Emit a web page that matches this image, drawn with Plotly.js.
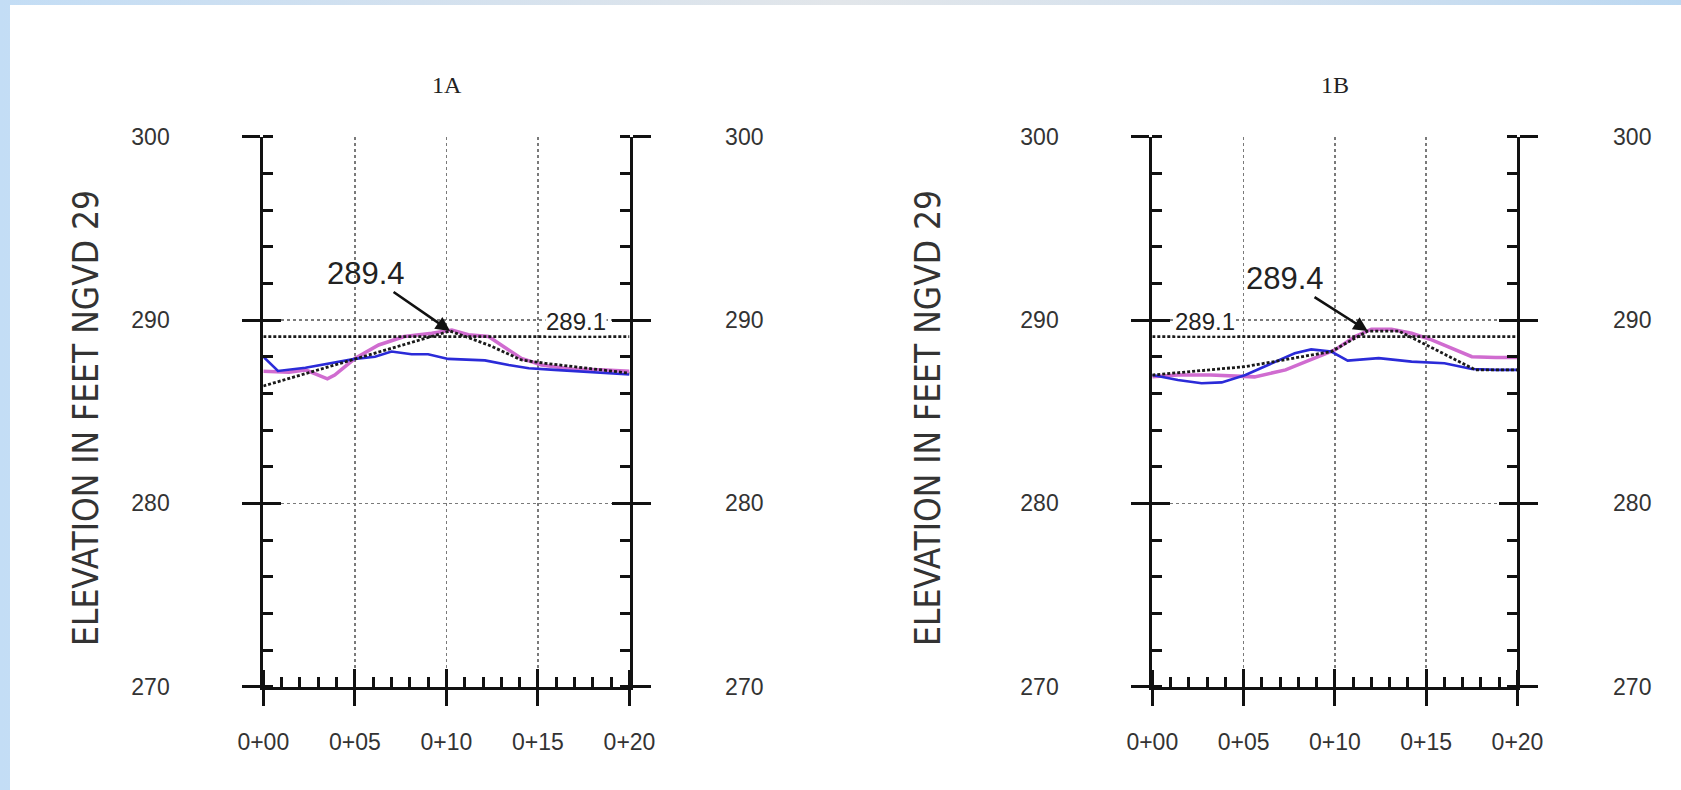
<!DOCTYPE html>
<html>
<head>
<meta charset="utf-8">
<script src="https://cdn.plot.ly/plotly-3.0.1.min.js"></script>
<style>
html, body { margin:0; padding:0; width:1681px; height:790px; overflow:hidden;
  background: linear-gradient(to right, #c3ddf5 0%, #d3e1ef 25%, #e2e6ea 50%, #d3e1ef 75%, #bcd8f1 100%); }
#chart { position:absolute; left:10px; top:5px; width:1671px; height:785px; background:#ffffff; }
</style>
</head>
<body>
<div id="chart"></div>
<script>
// ---- data ----
const stationTicks = [0, 5, 10, 15, 20];
const stationLabels = ['0+00', '0+05', '0+10', '0+15', '0+20'];
const elevTicks = [270, 280, 290, 300];
const elevLabels = ['270', '280', '290', '300'];
const yTitle = 'ELEVATION IN FEET NGVD 29';
const panelTitles = ['1A', '1B'];

const designElev = 289.1;
const peakLabel = '289.4';

// Section 1A
const blue1A_x = [0, 0.8, 2.3, 5.0, 6.1, 7.0, 8.1, 9.0, 10.1, 11.2, 12.1, 13.4, 14.5, 15.9, 17.75, 20];
const blue1A_y = [288.0, 287.22, 287.4, 287.88, 288.0, 288.28, 288.13, 288.13, 287.88, 287.82, 287.8, 287.55, 287.37, 287.28, 287.15, 287.03];
const pink1A_x = [0, 1.4, 2.3, 3.0, 3.5, 3.9, 5.0, 6.3, 7.7, 9.2, 10.3, 11.2, 12.3, 13.4, 14.1, 15.2, 16.8, 18.7, 20];
const pink1A_y = [287.2, 287.15, 287.28, 287.0, 286.79, 287.0, 287.9, 288.64, 289.1, 289.28, 289.46, 289.2, 289.1, 288.37, 287.9, 287.55, 287.33, 287.28, 287.2];
const black1A_x = [0, 5, 10.2, 12.3, 14.1, 15.4, 17.75, 20];
const black1A_y = [286.4, 287.85, 289.4, 288.64, 287.82, 287.64, 287.37, 287.1];
const peak1A = [10.2, 289.4];
const lbl1A_x = 17.1;

// Section 1B
const blue1B_x = [0, 1.4, 2.7, 3.8, 5.1, 6.5, 7.8, 8.7, 9.8, 10.7, 12.4, 14.2, 16.0, 17.5, 18.8, 20];
const blue1B_y = [287.0, 286.73, 286.55, 286.6, 287.0, 287.64, 288.19, 288.4, 288.28, 287.79, 287.92, 287.73, 287.64, 287.33, 287.28, 287.28];
const pink1B_x = [0, 1.4, 3.2, 5.6, 7.3, 8.7, 10.0, 11.1, 12.0, 13.1, 14.2, 15.3, 16.4, 17.5, 18.8, 20];
const pink1B_y = [286.9, 287.0, 287.0, 286.9, 287.28, 287.82, 288.37, 289.1, 289.5, 289.5, 289.28, 288.92, 288.46, 288.0, 287.95, 287.95];
const black1B_x = [0, 5.1, 9.8, 11.8, 13.5, 17.7, 20];
const black1B_y = [287.0, 287.46, 288.28, 289.4, 289.4, 287.28, 287.28];
const peak1B = [11.8, 289.4];
const lbl1B_x = 2.9;

// ---- styling ----
const AX = '#111111';
const TXT = '#333333';
const tickFont = { family: 'Liberation Sans, Arial, sans-serif', size: 23, color: TXT };
const domL = [0.15159, 0.37074];
const domR = [0.68360, 0.90215];
const domY = [0.13159, 0.83223];
const crossPos = 0.15452; // overlay axis sits 18px above the bottom axis so its 36px ticks cross it

function lineTraces(xa, ya, xo, yo, bx, by, px, py, kx, ky) {
  return [
    // empty trace so the overlay axes (crossing ticks, right-hand labels) are drawn
    { x: [], y: [], xaxis: xo, yaxis: yo, mode: 'lines', hoverinfo: 'skip' },
    { x: px, y: py, xaxis: xa, yaxis: ya, mode: 'lines', line: { color: '#d06cd0', width: 3.5 }, hoverinfo: 'skip' },
    { x: bx, y: by, xaxis: xa, yaxis: ya, mode: 'lines', line: { color: '#2b2bd8', width: 2.6 }, hoverinfo: 'skip' },
    { x: kx, y: ky, xaxis: xa, yaxis: ya, mode: 'lines', line: { color: '#1a1a1a', width: 2.8, dash: '3px,2px' }, hoverinfo: 'skip' },
    { x: [stationTicks[0], stationTicks[stationTicks.length - 1]], y: [designElev, designElev], xaxis: xa, yaxis: ya,
      mode: 'lines', line: { color: '#1a1a1a', width: 2.8, dash: '3px,2px' }, hoverinfo: 'skip' }
  ];
}

const data = [].concat(
  lineTraces('x', 'y', 'x2', 'y2', blue1A_x, blue1A_y, pink1A_x, pink1A_y, black1A_x, black1A_y),
  lineTraces('x3', 'y3', 'x4', 'y4', blue1B_x, blue1B_y, pink1B_x, pink1B_y, black1B_x, black1B_y)
);

function xMain(dom, anchor) {
  return {
    domain: dom, anchor: anchor, range: [0, 20], tickmode: 'array', tickvals: stationTicks, ticktext: stationLabels,
    ticks: 'inside', ticklen: 18, tickwidth: 3, tickcolor: AX,
    showline: true, linecolor: AX, linewidth: 3, zeroline: false,
    showgrid: true, gridcolor: '#7a7a7a', gridwidth: 1.6, griddash: 'dot',
    minor: { ticks: 'inside', tick0: 0, dtick: 1, ticklen: 10, tickwidth: 3, tickcolor: AX, showgrid: false },
    tickfont: tickFont, ticklabelstandoff: 33, fixedrange: true
  };
}
function xOver(dom, over) {
  return {
    domain: dom, anchor: 'free', position: crossPos, overlaying: over, range: [0, 20], tickmode: 'array', tickvals: stationTicks,
    ticks: 'outside', ticklen: 36, tickwidth: 3, tickcolor: AX, showticklabels: false,
    showline: false, showgrid: false, zeroline: false, fixedrange: true
  };
}
function yMain(anchor) {
  return {
    domain: domY, anchor: anchor, range: [270, 300], tickmode: 'array', tickvals: elevTicks, ticktext: elevLabels,
    ticks: 'outside', ticklen: 18, tickwidth: 3, tickcolor: AX,
    showline: true, linecolor: AX, linewidth: 3, mirror: 'ticks', zeroline: false,
    showgrid: true, gridcolor: '#7a7a7a', gridwidth: 1.6, griddash: 'dot',
    minor: { ticks: 'inside', tick0: 270, dtick: 2, ticklen: 10, tickwidth: 3, tickcolor: AX, showgrid: false },
    tickfont: tickFont, ticklabelstandoff: 68, fixedrange: true
  };
}
function yOver(anchor, over) {
  return {
    domain: domY, anchor: anchor, overlaying: over, side: 'right', range: [270, 300], tickmode: 'array',
    tickvals: elevTicks, ticktext: elevLabels,
    ticks: 'inside', ticklen: 18, tickwidth: 3, tickcolor: AX,
    showline: true, linecolor: AX, linewidth: 3, mirror: 'ticks', zeroline: false, showgrid: false,
    minor: { ticks: 'inside', tick0: 270, dtick: 2, ticklen: 10, tickwidth: 3, tickcolor: AX, showgrid: false },
    tickfont: tickFont, ticklabelstandoff: 88, fixedrange: true
  };
}

const titleFont = { family: 'Liberation Serif, Times New Roman, serif', size: 24, color: '#222' };
const yTitleFont = { family: 'Liberation Sans Narrow, Arial Narrow, DejaVu Sans Condensed, Liberation Sans, sans-serif', size: 35, color: TXT };
const peakFont = { family: 'Liberation Sans, Arial, sans-serif', size: 31, color: '#222' };
const lblFont = { family: 'Liberation Sans, Arial, sans-serif', size: 24, color: '#222' };

const annotations = [
  { text: panelTitles[0], xref: 'paper', yref: 'paper', x: 0.26134, y: 0.8981, showarrow: false, font: titleFont, xanchor: 'center', yanchor: 'middle' },
  { text: panelTitles[1], xref: 'paper', yref: 'paper', x: 0.79294, y: 0.8981, showarrow: false, font: titleFont, xanchor: 'center', yanchor: 'middle' },
  { text: yTitle, xref: 'paper', yref: 'paper', x: 0.04548, y: 0.4739, textangle: -90, showarrow: false, font: yTitleFont, xanchor: 'center', yanchor: 'middle' },
  { text: yTitle, xref: 'paper', yref: 'paper', x: 0.54937, y: 0.4739, textangle: -90, showarrow: false, font: yTitleFont, xanchor: 'center', yanchor: 'middle' },
  { text: peakLabel, xref: 'x', yref: 'y', x: peak1A[0], y: peak1A[1], ax: -84, ay: -58, showarrow: true,
    arrowhead: 2, arrowsize: 1.1, arrowwidth: 2.6, arrowcolor: '#111', font: peakFont, standoff: 0 },
  { text: peakLabel, xref: 'x3', yref: 'y3', x: peak1B[0], y: peak1B[1], ax: -83, ay: -53, showarrow: true,
    arrowhead: 2, arrowsize: 1.1, arrowwidth: 2.6, arrowcolor: '#111', font: peakFont, standoff: 0 },
  { text: String(designElev), xref: 'x', yref: 'y', x: lbl1A_x, y: designElev, yshift: 15, showarrow: false,
    font: lblFont, bgcolor: '#ffffff', borderpad: 0 },
  { text: String(designElev), xref: 'x3', yref: 'y3', x: lbl1B_x, y: designElev, yshift: 15, showarrow: false,
    font: lblFont, bgcolor: '#ffffff', borderpad: 0 }
];

const layout = {
  width: 1671, height: 785,
  margin: { l: 0, r: 0, t: 0, b: 0 },
  paper_bgcolor: '#ffffff', plot_bgcolor: 'rgba(0,0,0,0)',
  showlegend: false,
  xaxis: xMain(domL, 'y'),
  xaxis2: xOver(domL, 'x'),
  yaxis: yMain('x'),
  yaxis2: yOver('x2', 'y'),
  xaxis3: xMain(domR, 'y3'),
  xaxis4: xOver(domR, 'x3'),
  yaxis3: yMain('x3'),
  yaxis4: yOver('x4', 'y3'),
  annotations: annotations
};

Plotly.newPlot('chart', data, layout, { displayModeBar: false, staticPlot: true });
</script>
</body>
</html>
